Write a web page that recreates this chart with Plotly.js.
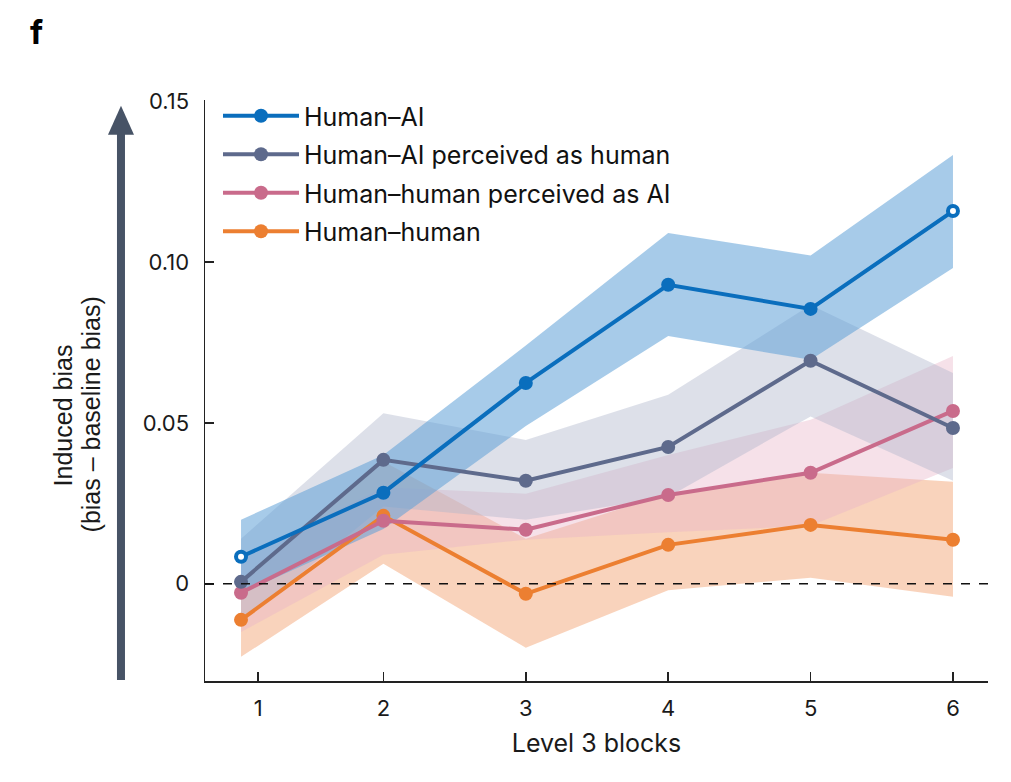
<!DOCTYPE html>
<html>
<head>
<meta charset="utf-8">
<script src="https://cdn.plot.ly/plotly-3.0.1.min.js"></script>
<style>html,body{margin:0;padding:0;background:#fff;}#chart{width:1011px;height:782px;}</style>
</head>
<body>
<div id="chart"></div>
<script>
// ---- data ----
const blocks = [1, 2, 3, 4, 5, 6];
const tickLabels = ["1", "2", "3", "4", "5", "6"];
const seriesNames = ["Human\u2013AI", "Human\u2013AI perceived as human", "Human\u2013human perceived as AI", "Human\u2013human"];

const humanAI      = [0.0084, 0.0283, 0.0624, 0.0929, 0.0854, 0.1158];
const humanAI_lo   = [-0.003, 0.017, 0.049, 0.077, 0.0696, 0.0981];
const humanAI_hi   = [0.0199, 0.040, 0.074, 0.109, 0.102, 0.1332];

const aiAsHuman    = [0.0006, 0.0385, 0.0320, 0.0425, 0.0693, 0.0484];
const aiAsHuman_lo = [-0.012, 0.024, 0.0199, 0.027, 0.052, 0.032];
const aiAsHuman_hi = [0.014, 0.053, 0.0447, 0.0587, 0.0866, 0.0655];

const humanAsAI    = [-0.0028, 0.0196, 0.0168, 0.0276, 0.0345, 0.0537];
const humanAsAI_lo = [-0.015, 0.009, 0.0137, 0.016, 0.018, 0.036];
const humanAsAI_hi = [0.008, 0.030, 0.028, 0.040, 0.051, 0.0708];

const humanHuman    = [-0.0112, 0.0211, -0.0031, 0.0121, 0.0183, 0.0137];
const humanHuman_lo = [-0.0227, 0.0062, -0.0199, -0.002, 0.0019, -0.004];
const humanHuman_hi = [0.0005, 0.038, 0.014, 0.028, 0.0345, 0.0317];

// ---- styles ----
const lineColors = ["#0a6ebd", "#5e6a8c", "#c96b8b", "#ec7f31"];
const bandColors = ["rgba(95,160,215,0.55)", "rgba(175,182,202,0.42)", "rgba(232,180,200,0.40)", "rgba(240,150,95,0.42)"];
const means = [humanAI, aiAsHuman, humanAsAI, humanHuman];
const los = [humanAI_lo, aiAsHuman_lo, humanAsAI_lo, humanHuman_lo];
const his = [humanAI_hi, aiAsHuman_hi, humanAsAI_hi, humanHuman_hi];

const FONT = "Inter, 'Noto Sans', sans-serif";
const traces = [];
// bands: orange, pink, gray, blue (blue on top)
[3, 2, 1, 0].forEach(i => {
  traces.push({
    x: blocks.concat(blocks.slice().reverse()),
    y: his[i].concat(los[i].slice().reverse()),
    type: "scatter", mode: "lines", fill: "toself",
    fillcolor: bandColors[i], line: {width: 0, color: "rgba(0,0,0,0)"},
    hoverinfo: "skip", showlegend: false
  });
});
// lines: orange, pink, gray, blue
[3, 2, 1, 0].forEach(i => {
  traces.push({
    x: blocks, y: means[i], name: seriesNames[i],
    type: "scatter", mode: "lines+markers",
    line: {color: lineColors[i], width: 4},
    marker: {size: 14, color: lineColors[i]},
    legendgroup: "g" + i, legendrank: i + 1
  });
});
// hollow centres for the first and last Human–AI points
const ends = [0, blocks.length - 1];
traces.push({
  x: ends.map(k => blocks[k]), y: ends.map(k => humanAI[k]),
  type: "scatter", mode: "markers", showlegend: false, hoverinfo: "skip",
  marker: {size: 6, color: "#ffffff"}
});

const layout = {
  width: 1011, height: 782,
  margin: {l: 205, r: 23, t: 100, b: 101},
  paper_bgcolor: "#fff", plot_bgcolor: "#fff",
  font: {family: FONT, color: "#1a1a1a", size: 22},
  showlegend: true,
  legend: {
    x: 0.0166, y: 1.012, xanchor: "left", yanchor: "top",
    font: {size: 25, family: FONT, color: "#111"},
    traceorder: "grouped", tracegroupgap: 3, bgcolor: "rgba(0,0,0,0)",
    itemwidth: 76
  },
  xaxis: {
    range: [0.747, 6.246],
    tickmode: "array", tickvals: [1.12, 2, 3, 4, 5, 6], ticktext: tickLabels,
    ticks: "inside", ticklen: 9, tickwidth: 1.5, tickcolor: "#222",
    showline: true, linecolor: "#222", linewidth: 1.5,
    showgrid: false, zeroline: false,
    tickfont: {size: 22, family: FONT, color: "#1a1a1a"},
    ticklabelstandoff: 7,
    title: {text: "Level 3 blocks", font: {size: 25, family: FONT, color: "#1a1a1a"}, standoff: 14}
  },
  yaxis: {
    range: [-0.0302, 0.1503],
    tickmode: "array", tickvals: [0, 0.05, 0.10, 0.15], ticktext: ["0", "0.05", "0.10", "0.15"],
    ticks: "inside", ticklen: 9, tickwidth: 1.5, tickcolor: "#222",
    showline: true, linecolor: "#222", linewidth: 1.5,
    showgrid: false, zeroline: false,
    tickfont: {size: 22, family: FONT, color: "#1a1a1a"},
    ticklabelstandoff: 10
  },
  shapes: [
    {type: "line", xref: "paper", yref: "y", x0: 0, x1: 1, y0: 0, y1: 0,
     line: {color: "#111", width: 1.5, dash: "dash"}, layer: "above"},
    {type: "line", xref: "paper", yref: "paper", x0: -0.1073, x1: -0.1073, y0: 0.0017, y1: 0.95,
     line: {color: "#475366", width: 8}},
    {type: "path", xref: "paper", yref: "paper",
     path: "M -0.1239 0.940 L -0.1073 0.990 L -0.0907 0.940 Z",
     fillcolor: "#475366", line: {width: 0}}
  ],
  annotations: [
    {text: "<b>f</b>", xref: "paper", yref: "paper", x: -0.2158, y: 1.117,
     xanchor: "center", yanchor: "middle", showarrow: false,
     font: {size: 33, family: FONT, color: "#000"}},
    {text: "Induced bias", xref: "paper", yref: "paper",
     x: -0.1820, y: 0.458, textangle: -90, showarrow: false,
     xanchor: "center", yanchor: "middle",
     font: {size: 25, family: "'Liberation Sans', Arial, sans-serif", color: "#1a1a1a"}},
    {text: "(bias \u2013 baseline bias)", xref: "paper", yref: "paper",
     x: -0.1462, y: 0.458, textangle: -90, showarrow: false,
     xanchor: "center", yanchor: "middle",
     font: {size: 25, family: "'Liberation Sans', Arial, sans-serif", color: "#1a1a1a"}}
  ]
};

Plotly.newPlot("chart", traces, layout, {displayModeBar: false, staticPlot: true});
</script>
</body>
</html>
